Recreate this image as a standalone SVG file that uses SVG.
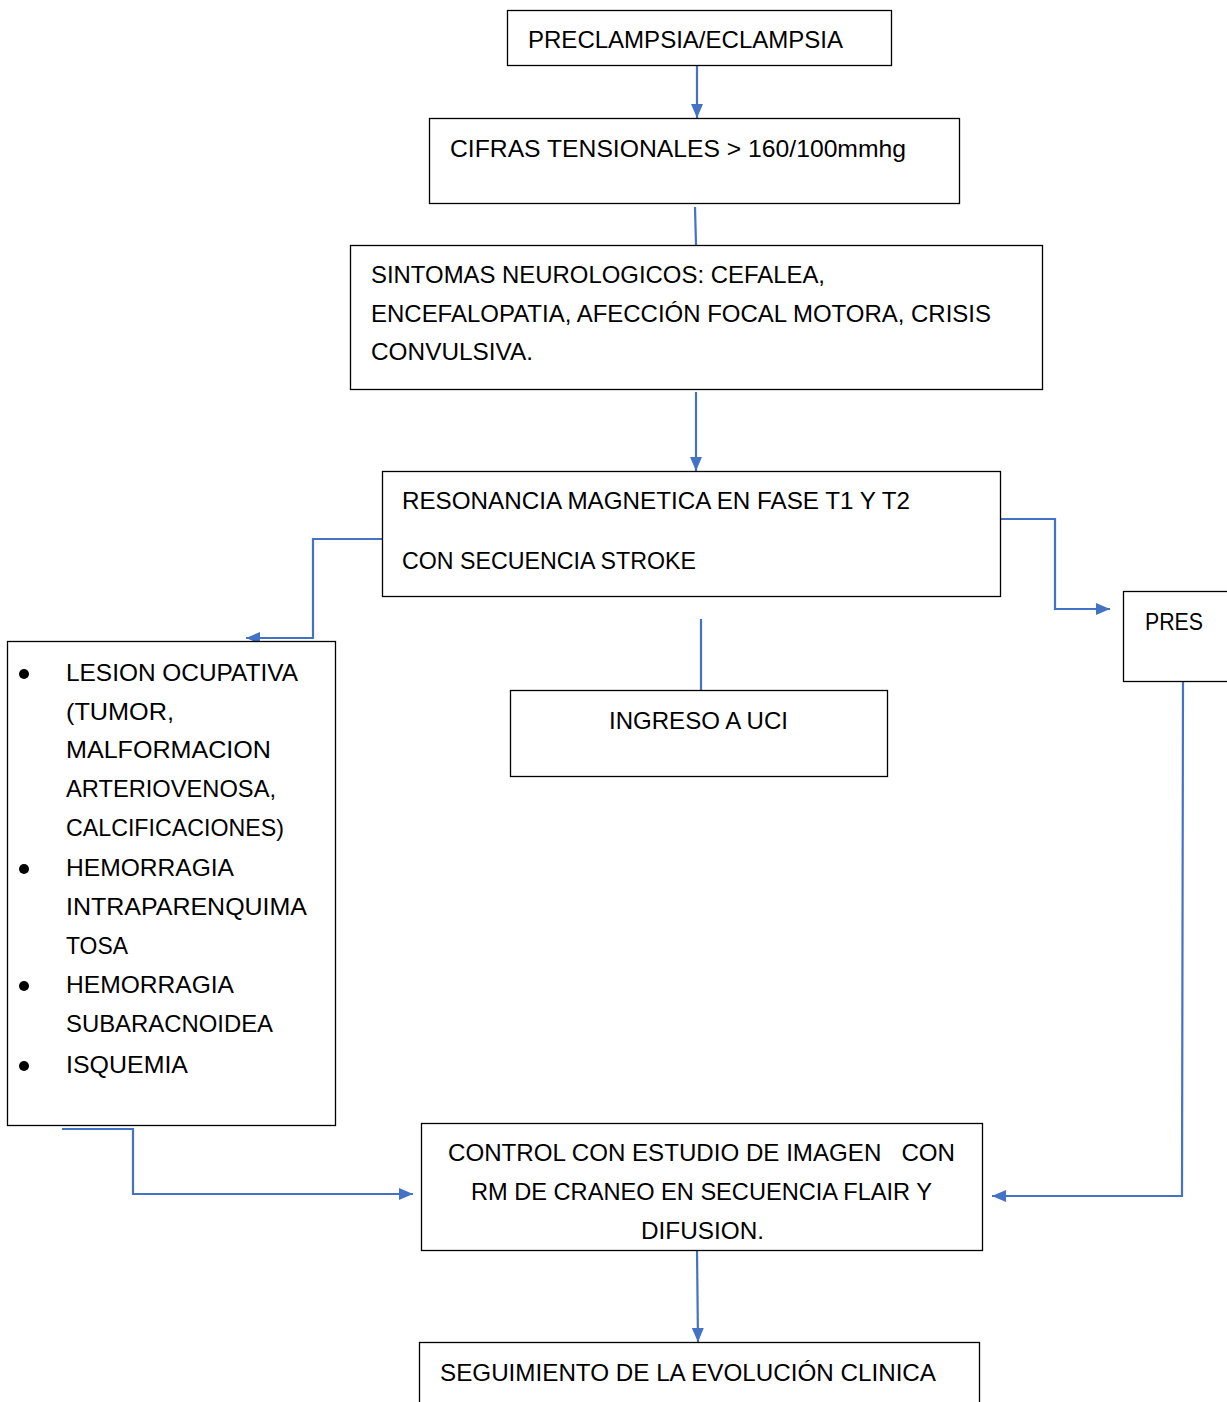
<svg xmlns="http://www.w3.org/2000/svg" width="1227" height="1402" viewBox="0 0 1227 1402">
<style>
.box{fill:#fff;stroke:#000;stroke-width:1.3}
text{font-family:"Liberation Sans",Arial,sans-serif;font-size:24px;fill:#000}
.c{fill:none;stroke:#4472C4;stroke-width:2.2}
</style>
<defs>
<marker id="ah" viewBox="0 0 14 12" refX="14" refY="6" markerWidth="14" markerHeight="12" markerUnits="userSpaceOnUse" orient="auto">
<path d="M0,0 L14,6 L0,12 Z" fill="#4472C4"/>
</marker>
</defs>
<rect width="1227" height="1402" fill="#fff"/>
<g id="connectors">
<path class="c" d="M697,65 L697,118" marker-end="url(#ah)"/>
<path class="c" d="M695,207 L696,245"/>
<path class="c" d="M696,392 L696,471" marker-end="url(#ah)"/>
<path class="c" d="M382,539 L313,539 L313,638 L246,638" marker-end="url(#ah)"/>
<path class="c" d="M1000,519 L1055,519 L1055,609 L1110,609" marker-end="url(#ah)"/>
<path class="c" d="M701,619 L701,690"/>
<path class="c" d="M1183,681 L1182,1196 L992,1196" marker-end="url(#ah)"/>
<path class="c" d="M62,1129 L133,1129 L133,1194 L413,1194" marker-end="url(#ah)"/>
<path class="c" d="M697,1250 L698,1342" marker-end="url(#ah)"/>
</g>
<g id="n1">
<rect class="box" x="507.5" y="10.5" width="384" height="55"/>
<text x="528" y="48" textLength="315" lengthAdjust="spacingAndGlyphs">PRECLAMPSIA/ECLAMPSIA</text>
</g>
<g id="n2">
<rect class="box" x="429.5" y="118.5" width="530" height="85"/>
<text x="450" y="157" textLength="456" lengthAdjust="spacingAndGlyphs">CIFRAS TENSIONALES &gt; 160/100mmhg</text>
</g>
<g id="n3">
<rect class="box" x="350.5" y="245.5" width="692" height="144"/>
<text x="371" y="283" textLength="454" lengthAdjust="spacingAndGlyphs">SINTOMAS NEUROLOGICOS: CEFALEA,</text>
<text x="371" y="322" textLength="620" lengthAdjust="spacingAndGlyphs">ENCEFALOPATIA, AFECCIÓN FOCAL MOTORA, CRISIS</text>
<text x="371" y="360" textLength="162" lengthAdjust="spacingAndGlyphs">CONVULSIVA.</text>
</g>
<g id="n4">
<rect class="box" x="382.5" y="471.5" width="618" height="125"/>
<text x="402" y="509" textLength="508" lengthAdjust="spacingAndGlyphs">RESONANCIA MAGNETICA EN FASE T1 Y T2</text>
<text x="402" y="569" textLength="294" lengthAdjust="spacingAndGlyphs">CON SECUENCIA STROKE</text>
</g>
<g id="n5">
<rect class="box" x="1123.5" y="591.5" width="110" height="90"/>
<text x="1145" y="630" textLength="58" lengthAdjust="spacingAndGlyphs">PRES</text>
</g>
<g id="n6">
<rect class="box" x="510.5" y="690.5" width="377" height="86"/>
<text x="609" y="729" textLength="179" lengthAdjust="spacingAndGlyphs">INGRESO A UCI</text>
</g>
<g id="n7">
<rect class="box" x="7.5" y="641.5" width="328" height="484"/>
<circle cx="24" cy="674" r="5"/>
<circle cx="24" cy="869" r="5"/>
<circle cx="24" cy="986" r="5"/>
<circle cx="24" cy="1066" r="5"/>
<text x="66" y="681" textLength="232" lengthAdjust="spacingAndGlyphs">LESION OCUPATIVA</text>
<text x="66" y="720" textLength="108" lengthAdjust="spacingAndGlyphs">(TUMOR,</text>
<text x="66" y="758" textLength="205" lengthAdjust="spacingAndGlyphs">MALFORMACION</text>
<text x="66" y="797" textLength="210" lengthAdjust="spacingAndGlyphs">ARTERIOVENOSA,</text>
<text x="66" y="836" textLength="218" lengthAdjust="spacingAndGlyphs">CALCIFICACIONES)</text>
<text x="66" y="876" textLength="168" lengthAdjust="spacingAndGlyphs">HEMORRAGIA</text>
<text x="66" y="915" textLength="241" lengthAdjust="spacingAndGlyphs">INTRAPARENQUIMA</text>
<text x="66" y="954" textLength="62" lengthAdjust="spacingAndGlyphs">TOSA</text>
<text x="66" y="993" textLength="168" lengthAdjust="spacingAndGlyphs">HEMORRAGIA</text>
<text x="66" y="1032" textLength="207" lengthAdjust="spacingAndGlyphs">SUBARACNOIDEA</text>
<text x="66" y="1073" textLength="122" lengthAdjust="spacingAndGlyphs">ISQUEMIA</text>
</g>
<g id="n8">
<rect class="box" x="421.5" y="1123.5" width="561" height="127"/>
<text x="448" y="1161" textLength="507" lengthAdjust="spacingAndGlyphs" xml:space="preserve">CONTROL CON ESTUDIO DE IMAGEN   CON</text>
<text x="471" y="1200" textLength="461" lengthAdjust="spacingAndGlyphs">RM DE CRANEO EN SECUENCIA FLAIR Y</text>
<text x="641" y="1239" textLength="123" lengthAdjust="spacingAndGlyphs">DIFUSION.</text>
</g>
<g id="n9">
<rect class="box" x="419.5" y="1342.5" width="560" height="70"/>
<text x="440" y="1381" textLength="496" lengthAdjust="spacingAndGlyphs">SEGUIMIENTO DE LA EVOLUCIÓN CLINICA</text>
</g>
</svg>
